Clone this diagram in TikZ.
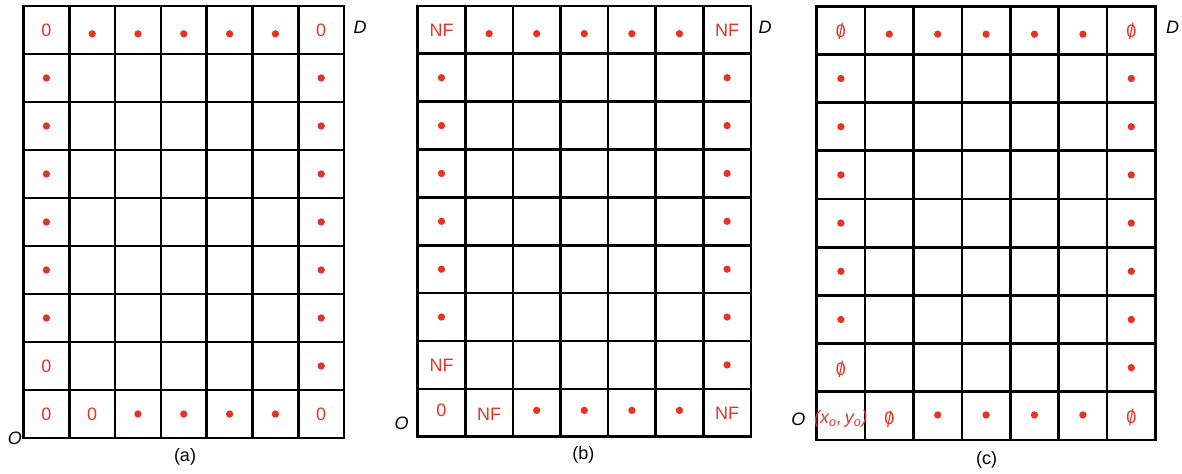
\documentclass[tikz,border=0pt]{standalone}
\usepackage{fontspec}
\usepackage{graphicx}
\setmainfont{Liberation Sans}
\usetikzlibrary{positioning}
\definecolor{cellred}{RGB}{229,52,38}
\newcommand{\nullset}{\ooalign{0\cr\hidewidth\raisebox{-0.12em}{\scalebox{0.9}[1.25]{/}}\hidewidth}}

\begin{document}
\begin{tikzpicture}[
    x=0.75pt, y=-0.75pt,
    gridline/.style={line width=2pt, black},
    celltext/.style={text=cellred, font=\fontsize{13.5}{16}\selectfont, inner sep=0pt},
    cornerlabel/.style={font=\fontsize{13.5}{16}\selectfont\itshape, inner sep=0pt},
    caption/.style={font=\fontsize{13.5}{16}\selectfont, inner sep=0pt},
    reddot/.style={fill=cellred}
]
\useasboundingbox (0,0) rectangle (1182,474);

% panel (a)
\begin{scope}[shift={(23.5,438)}, x=34.35pt, y=36pt]
    \foreach \i in {1,...,6} \draw[gridline] (\i,0) -- (\i,9);
    \foreach \j in {1,...,8} \draw[gridline] (0,\j) -- (7,\j);
    \draw[gridline] (0,0) rectangle (7,9);
    \foreach \c in {1,...,5} \fill[reddot] (\c+0.5,8.42) circle[radius=2.75pt];
    \foreach \r in {2,...,7} \fill[reddot] (0.5,\r+0.5) circle[radius=2.75pt];
    \foreach \r in {1,...,7} \fill[reddot] (6.5,\r+0.5) circle[radius=2.75pt];
    \foreach \c in {2,...,5} \fill[reddot] (\c+0.5,0.5) circle[radius=2.75pt];
    \node[celltext] (a-tl) at (0.5,8.5) {0};
    \node[celltext] (a-tr) at (6.5,8.5) {0};
    \node[celltext] (a-l1) at (0.5,1.5) {0};
    \node[celltext] (a-bl) at (0.5,0.5) {0};
    \node[celltext] (a-b1) at (1.5,0.5) {0};
    \node[celltext] (a-br) at (6.5,0.5) {0};
\end{scope}
\node[cornerlabel] (a-O) at (15,438) {O};
\node[cornerlabel] (a-D) at (360,27) {D};
\node[caption] (a-cap) at (185,457) {(a)};

% panel (b)
\begin{scope}[shift={(417.7,436.7)}, x=35.7pt, y=35.9pt]
    \foreach \i in {1,...,6} \draw[gridline] (\i,0) -- (\i,9);
    \foreach \j in {1,...,8} \draw[gridline] (0,\j) -- (7,\j);
    \draw[gridline] (0,0) rectangle (7,9);
    \foreach \c in {1,...,5} \fill[reddot] (\c+0.5,8.42) circle[radius=2.75pt];
    \foreach \r in {2,...,7} \fill[reddot] (0.5,\r+0.5) circle[radius=2.75pt];
    \foreach \r in {1,...,7} \fill[reddot] (6.5,\r+0.5) circle[radius=2.75pt];
    \foreach \c in {2,...,5} \fill[reddot] (\c+0.5,0.55) circle[radius=2.75pt];
    \node[celltext] (b-tl) at (0.5,8.5) {NF};
    \node[celltext] (b-tr) at (6.5,8.5) {NF};
    \node[celltext] (b-l1) at (0.5,1.5) {NF};
    \node[celltext] (b-bl) at (0.5,0.55) {0};
    \node[celltext] (b-b1) at (1.5,0.47) {NF};
    \node[celltext] (b-br) at (6.5,0.48) {NF};
\end{scope}
\node[cornerlabel] (b-O) at (401.7,423.3) {O};
\node[cornerlabel] (b-D) at (765,27) {D};
\node[caption] (b-cap) at (583.3,455) {(b)};

% panel (c)
\begin{scope}[shift={(816.7,440)}, x=36.3pt, y=36.15pt]
    \foreach \i in {1,...,6} \draw[gridline] (\i,0) -- (\i,9);
    \foreach \j in {1,...,8} \draw[gridline] (0,\j) -- (7,\j);
    \draw[gridline] (0,0) rectangle (7,9);
    \foreach \c in {1,...,5} \fill[reddot] (\c+0.5,8.42) circle[radius=2.75pt];
    \foreach \r in {2,...,7} \fill[reddot] (0.5,\r+0.5) circle[radius=2.75pt];
    \foreach \r in {1,...,7} \fill[reddot] (6.5,\r+0.5) circle[radius=2.75pt];
    \foreach \c in {2,...,5} \fill[reddot] (\c+0.5,0.52) circle[radius=2.75pt];
    \node[celltext] (c-tl) at (0.5,8.45) {\nullset};
    \node[celltext] (c-tr) at (6.5,8.45) {\nullset};
    \node[celltext] (c-l1) at (0.5,1.45) {\nullset};
    \node[celltext] (c-bl) at (0.5,0.43) {\itshape(x\textsubscript{o},\,y\textsubscript{o})};
    \node[celltext] (c-b1) at (1.5,0.42) {\nullset};
    \node[celltext] (c-br) at (6.5,0.45) {\nullset};
\end{scope}
\node[cornerlabel] (c-O) at (798.3,419.3) {O};
\node[cornerlabel] (c-D) at (1172.7,27) {D};
\node[caption] (c-cap) at (986.7,460) {(c)};
\end{tikzpicture}
\end{document}
